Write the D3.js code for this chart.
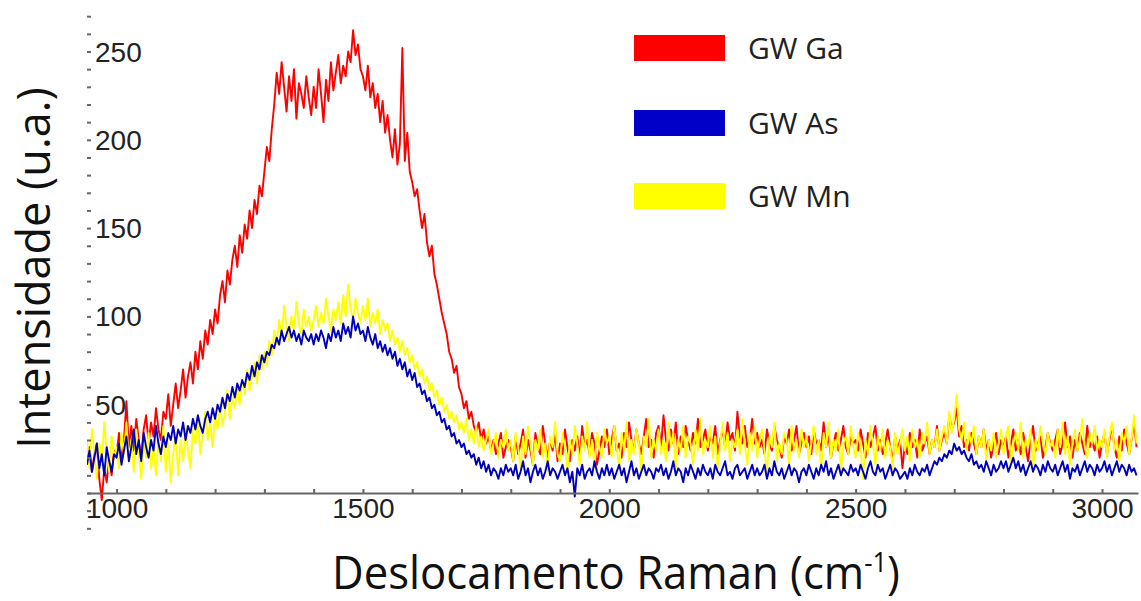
<!DOCTYPE html>
<html>
<head>
<meta charset="utf-8">
<script src="https://cdn.jsdelivr.net/npm/d3@7"></script>
<style>
  body { margin: 0; background: #fff; }
  svg { display: block; }
</style>
</head>
<body>
<svg id="chart" width="1141" height="601"></svg>
<script>
// each row of a series starts at rowStarts[i] and steps 5 cm-1
var rowStarts = [940, 1000, 1100, 1200, 1300, 1400, 1500, 1600, 1700, 1800, 1900,
                 2000, 2100, 2200, 2300, 2400, 2500, 2600, 2700, 2800, 2900, 3000];
var shiftStep = 5;

var gaRows = [
  [18, 26, 12, 22, 28, 8, -4, 14, 6, 20, 10, 24],
  [22, 34, 18, 30, 52, 26, 38, 24, 42, 30, 20, 36, 44, 28, 40, 32, 48, 36, 30, 46],
  [42, 56, 38, 50, 62, 48, 58, 70, 54, 66, 74, 62, 80, 70, 86, 76, 92, 84, 98, 90],
  [104, 96, 112, 120, 108, 126, 118, 132, 140, 128, 146, 136, 152, 144, 160, 150, 166, 158, 174, 168],
  [182, 196, 188, 206, 220, 238, 226, 244, 230, 216, 236, 222, 240, 212, 232, 226, 218, 236, 224, 214],
  [230, 218, 240, 226, 210, 234, 222, 244, 228, 238, 248, 232, 242, 236, 250, 244, 262, 248, 254, 240],
  [236, 228, 242, 224, 232, 218, 226, 210, 222, 204, 214, 200, 190, 206, 186, 198, 252, 188, 204, 182],
  [176, 168, 172, 160, 150, 158, 142, 134, 140, 124, 118, 110, 102, 96, 90, 80, 76, 68, 72, 60],
  [56, 48, 52, 42, 46, 38, 34, 40, 30, 36, 28, 32, 24, 30, 22, 28, 34, 20, 26, 30],
  [26, 18, 32, 22, 28, 36, 20, 30, 24, 16, 34, 26, 22, 38, 28, 20, 30, 24, 34, 18],
  [28, 22, 36, 26, 18, 30, 24, 32, 20, 38, 26, 30, 22, 34, 28, 16, 24, 32, 26, 36],
  [22, 30, 38, 24, 28, 20, 34, 26, 40, 30, 24, 36, 28, 22, 32, 42, 26, 30, 20, 34],
  [38, 26, 44, 30, 24, 36, 28, 40, 22, 32, 26, 38, 30, 24, 34, 28, 42, 26, 30, 36],
  [24, 32, 28, 38, 22, 30, 36, 26, 40, 30, 34, 24, 46, 32, 28, 38, 26, 30, 42, 28],
  [34, 26, 30, 22, 36, 28, 24, 38, 30, 26, 20, 32, 28, 36, 24, 30, 38, 22, 28, 34],
  [26, 32, 22, 36, 28, 30, 24, 40, 26, 32, 20, 28, 34, 24, 30, 38, 26, 22, 32, 28],
  [30, 24, 36, 28, 20, 34, 26, 32, 38, 24, 30, 22, 28, 36, 26, 18, 32, 24, 30, 14],
  [28, 22, 34, 26, 30, 20, 36, 24, 28, 32, 22, 30, 26, 38, 24, 30, 34, 28, 44, 36],
  [40, 48, 32, 38, 26, 30, 24, 34, 28, 22, 32, 26, 36, 24, 30, 20, 28, 34, 22, 30],
  [26, 32, 20, 28, 36, 24, 30, 22, 34, 26, 18, 30, 38, 24, 28, 32, 20, 26, 34, 28],
  [24, 30, 36, 22, 28, 40, 26, 32, 20, 30, 24, 34, 28, 22, 38, 26, 30, 24, 32, 20],
  [28, 34, 22, 30, 38, 26, 20, 32, 24, 36, 28, 22, 30, 40, 26]
];

var asRows = [
  [16, 24, 12, 20, 28, 14, 22, 10, 26, 18, 12, 22],
  [20, 28, 16, 24, 32, 18, 26, 36, 22, 30, 18, 34, 26, 20, 30, 24, 38, 28, 22, 32],
  [26, 34, 30, 38, 28, 36, 32, 40, 30, 38, 34, 42, 36, 44, 38, 34, 42, 46, 40, 48],
  [42, 50, 46, 54, 48, 56, 52, 60, 54, 62, 58, 64, 60, 68, 64, 72, 66, 74, 70, 78],
  [74, 80, 78, 84, 82, 88, 84, 92, 86, 90, 94, 88, 92, 86, 90, 84, 92, 88, 86, 90],
  [84, 90, 86, 92, 88, 82, 90, 86, 94, 88, 92, 86, 96, 90, 94, 88, 100, 92, 96, 90],
  [92, 86, 94, 88, 84, 90, 82, 86, 80, 84, 78, 82, 76, 80, 72, 76, 70, 74, 66, 70],
  [64, 68, 60, 62, 56, 58, 52, 54, 48, 50, 44, 46, 40, 42, 36, 38, 32, 34, 28, 30],
  [26, 28, 22, 24, 20, 22, 16, 20, 14, 18, 12, 16, 10, 14, 12, 8, 14, 10, 16, 12],
  [14, 10, 16, 8, 12, 18, 10, 14, 6, 12, 16, 10, 14, 8, 12, 18, 10, 14, 12, 8],
  [12, 16, 10, 14, 6, 12, -2, 14, 10, 16, 8, 12, 14, 10, 18, 12, 8, 14, 10, 16],
  [10, 14, 8, 12, 16, 10, 14, 6, 12, 18, 10, 14, 8, 12, 16, 10, 14, 12, 8, 14],
  [12, 16, 10, 14, 8, 12, 18, 10, 14, 12, 6, 14, 10, 16, 12, 8, 14, 10, 16, 12],
  [10, 14, 8, 16, 12, 10, 14, 18, 10, 12, 8, 14, 16, 10, 12, 14, 8, 12, 16, 10],
  [14, 10, 12, 16, 8, 14, 10, 18, 12, 10, 14, 8, 12, 16, 10, 14, 12, 6, 12, 14],
  [10, 16, 12, 8, 14, 10, 16, 12, 18, 10, 14, 8, 12, 16, 10, 14, 12, 10, 16, 12],
  [14, 10, 16, 12, 8, 14, 18, 12, 10, 16, 12, 14, 8, 12, 16, 10, 14, 12, 8, 10],
  [12, 8, 14, 10, 16, 12, 10, 14, 12, 16, 10, 14, 18, 16, 20, 18, 22, 20, 24, 22],
  [28, 24, 26, 22, 24, 20, 18, 22, 16, 18, 14, 16, 12, 18, 14, 10, 16, 12, 14, 18],
  [14, 18, 12, 16, 20, 14, 18, 12, 16, 10, 14, 18, 12, 16, 14, 10, 16, 12, 18, 14],
  [12, 16, 10, 14, 18, 12, 16, 8, 14, 12, 16, 10, 14, 18, 12, 16, 14, 10, 16, 12],
  [14, 18, 12, 16, 10, 14, 18, 12, 16, 14, 10, 16, 12, 14, 10]
];

var mnRows = [
  [30, 14, 36, 22, 8, 28, 18, 40, 24, 12, 32, 20],
  [26, 14, 34, 22, 40, 18, 30, 12, 36, 24, 8, 28, 20, 34, 14, 26, 10, 30, 18, 38],
  [12, 28, 6, 22, 34, 10, 30, 18, 38, 24, 14, 36, 28, 42, 22, 34, 46, 30, 40, 26],
  [44, 36, 50, 38, 46, 58, 42, 54, 48, 60, 50, 64, 56, 70, 58, 66, 74, 62, 78, 70],
  [80, 72, 86, 78, 92, 84, 98, 88, 106, 94, 86, 100, 92, 108, 96, 90, 104, 94, 100, 92],
  [98, 106, 94, 102, 96, 110, 100, 92, 104, 98, 108, 96, 112, 100, 118, 104, 98, 110, 102, 96],
  [106, 98, 110, 94, 102, 96, 104, 90, 98, 92, 96, 86, 92, 84, 88, 80, 86, 78, 82, 74],
  [78, 70, 74, 66, 70, 62, 66, 58, 62, 54, 58, 50, 54, 46, 50, 42, 46, 40, 44, 36],
  [40, 34, 42, 30, 36, 28, 38, 26, 32, 24, 30, 36, 22, 28, 34, 20, 30, 26, 36, 24],
  [30, 18, 34, 26, 14, 32, 22, 38, 28, 16, 30, 24, 36, 20, 28, 12, 32, 26, 40, 22],
  [18, 34, 26, 12, 30, 22, 38, 28, 16, 32, 24, 40, 20, 30, 14, 34, 26, 20, 36, 28],
  [32, 20, 38, 26, 14, 34, 24, 40, 18, 30, 22, 36, 28, 12, 32, 26, 42, 20, 30, 24],
  [36, 22, 30, 18, 40, 26, 34, 14, 30, 24, 38, 20, 32, 28, 16, 36, 24, 42, 22, 30],
  [26, 38, 20, 32, 14, 28, 40, 24, 34, 18, 30, 26, 36, 22, 42, 28, 16, 34, 24, 38],
  [20, 30, 36, 24, 12, 32, 26, 40, 18, 28, 22, 34, 30, 16, 38, 24, 30, 20, 36, 26],
  [32, 18, 28, 38, 22, 30, 14, 34, 26, 40, 20, 30, 24, 36, 12, 28, 32, 22, 38, 26],
  [20, 34, 26, 8, 30, 22, 38, 28, 16, 32, 24, 36, 20, 30, 26, 14, 34, 22, 28, 36],
  [24, 32, 18, 36, 26, 30, 20, 34, 28, 40, 22, 30, 26, 36, 24, 32, 38, 28, 46, 34],
  [42, 56, 36, 30, 40, 24, 34, 28, 38, 22, 32, 26, 36, 18, 30, 24, 34, 20, 28, 36],
  [22, 32, 38, 18, 28, 34, 24, 40, 20, 30, 26, 36, 14, 30, 24, 38, 28, 22, 34, 26],
  [30, 20, 36, 26, 40, 22, 32, 16, 28, 36, 24, 30, 42, 26, 20, 34, 28, 38, 24, 30],
  [26, 36, 20, 32, 40, 24, 30, 18, 34, 28, 38, 22, 30, 44, 28]
];

var seriesNames = ["GW Ga", "GW As", "GW Mn"];
var lineColors = ["#ff0000", "#0000b8", "#ffff00"];
var swatchColors = ["#ff0000", "#0000c8", "#ffff00"];
var xTicks = [1000, 1100, 1200, 1300, 1400, 1500, 1600, 1700, 1800, 1900, 2000,
              2100, 2200, 2300, 2400, 2500, 2600, 2700, 2800, 2900, 3000];
var xLabels = [1000, 1500, 2000, 2500, 3000];
var yLabels = [50, 100, 150, 200, 250];

function toPoints(rows) {
    var pts = [];
    rows.forEach(function(row, i) {
        row.forEach(function(v, j) {
            pts.push([rowStarts[i] + j * shiftStep, v]);
        });
    });
    return pts;
}

var svg = d3.select("#chart");

var x = d3.scaleLinear().domain([940, 3073]).range([87, 1138]);
var y = d3.scaleLinear().domain([0, 250]).range([493, 51.5]);

svg.append("defs").append("clipPath").attr("id", "plotClip")
    .append("rect")
    .attr("x", x(940)).attr("y", 0)
    .attr("width", x(3073) - x(940)).attr("height", 540);

var line = d3.line()
    .x(function(d) { return x(d[0]); })
    .y(function(d) { return y(d[1]); });

// drawing order: red, yellow, blue
var drawOrder = [0, 2, 1];
var allRows = [gaRows, asRows, mnRows];
var plot = svg.append("g").attr("clip-path", "url(#plotClip)");
drawOrder.forEach(function(k) {
    plot.append("path")
        .datum(toPoints(allRows[k]))
        .attr("d", line)
        .attr("fill", "none")
        .attr("stroke", lineColors[k])
        .attr("stroke-width", 1.9)
        .attr("stroke-linejoin", "round");
});

// y minor ticks (no axis line)
var yAxis = d3.axisLeft(y)
    .tickValues(d3.range(-20, 271, 10))
    .tickSize(4)
    .tickFormat("");
var gy = svg.append("g").attr("transform", "translate(91,0)").call(yAxis);
gy.select(".domain").remove();
gy.selectAll("line").attr("stroke", "#666").attr("stroke-width", 2);

svg.selectAll("text.ylab")
    .data(yLabels)
    .enter().append("text")
    .attr("class", "ylab")
    .attr("x", 95)
    .attr("y", function(d) { return y(d); })
    .attr("dy", "0.36em")
    .attr("font-family", "'Liberation Sans', Arial, sans-serif")
    .attr("font-size", "28px")
    .attr("fill", "#222")
    .text(function(d) { return d; });

// x axis
var xAxis = d3.axisBottom(x)
    .tickValues(xTicks)
    .tickSize(-4)
    .tickSizeOuter(0)
    .tickPadding(5)
    .tickFormat(function(d) { return xLabels.indexOf(d) >= 0 ? d : ""; });
var gx = svg.append("g").attr("transform", "translate(0," + y(0) + ")").call(xAxis);
gx.select(".domain").attr("stroke", "#666").attr("stroke-width", 2);
gx.selectAll("line").attr("stroke", "#666").attr("stroke-width", 2);
gx.selectAll("text")
    .attr("font-family", "'Liberation Sans', Arial, sans-serif")
    .attr("font-size", "28px")
    .attr("fill", "#222");

// axis titles
svg.append("text")
    .attr("transform", "translate(50,268) rotate(-90)")
    .attr("text-anchor", "middle")
    .attr("font-family", "'Open Sans', sans-serif")
    .attr("font-size", "45px")
    .attr("fill", "#111")
    .text("Intensidade (u.a.)");

// x title: squeezed horizontally to the narrow width of the original font
var xt = svg.append("text")
    .attr("text-anchor", "middle")
    .attr("font-family", "'Open Sans', sans-serif")
    .attr("font-size", "46px")
    .attr("fill", "#111");
xt.append("tspan").text("Deslocamento Raman (cm");
xt.append("tspan").attr("dy", -17).attr("font-size", "27px").text("-1");
xt.append("tspan").attr("dy", 17).text(")");
var xtWidth = xt.node().getBBox().width;
xt.attr("transform", "translate(616,589) scale(" + (568 / xtWidth) + ",1)");

// legend
var legend = svg.append("g").attr("class", "legend");
var legendY = [48, 123, 196];
seriesNames.forEach(function(name, i) {
    legend.append("rect")
        .attr("x", 634).attr("y", legendY[i] - 13)
        .attr("width", 91).attr("height", 26)
        .attr("fill", swatchColors[i]);
    legend.append("text")
        .attr("x", 748).attr("y", legendY[i] + 11)
        .attr("font-family", "'Open Sans', sans-serif")
        .attr("font-size", "30px")
        .attr("fill", "#222")
        .text(name);
});
</script>
</body>
</html>
